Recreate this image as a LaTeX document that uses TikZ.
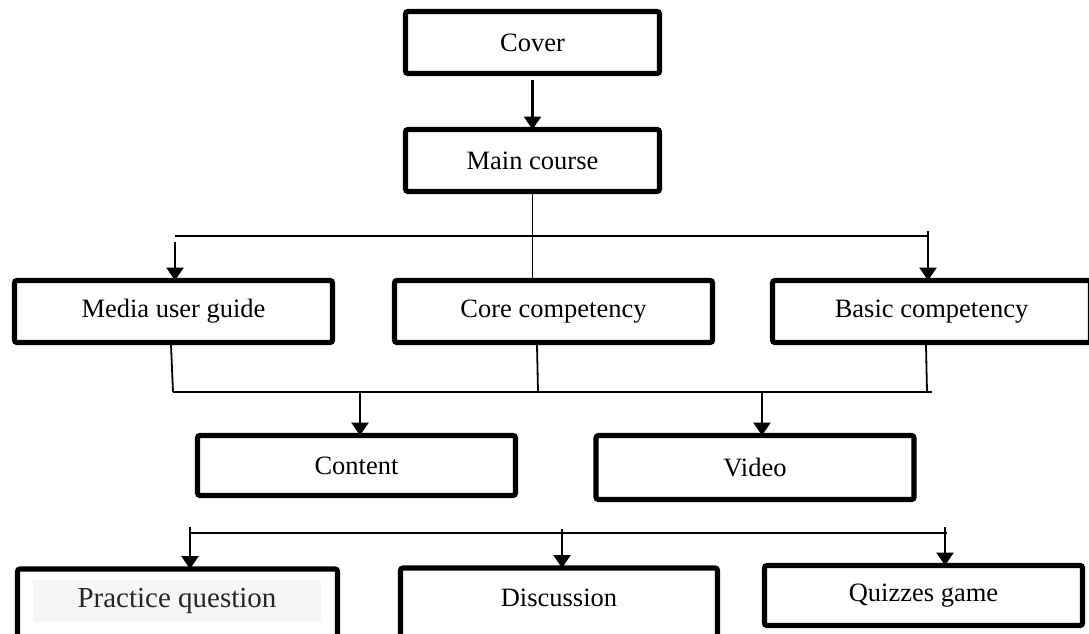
\documentclass[tikz,border=0pt]{standalone}
\usepackage{fontspec}
\setmainfont{Liberation Serif}
\usetikzlibrary{arrows.meta}
\definecolor{pqfill}{HTML}{F5F6F8}
\definecolor{pqtext}{HTML}{262626}
\begin{document}
\begin{tikzpicture}[x=1pt,y=-1pt,
  box/.style={draw, line width=5.2pt, rounded corners=2.5pt, minimum width=318pt, minimum height=62pt, inner sep=0pt, outer sep=0pt, font=\fontsize{26.5}{30}\selectfont},
  bus/.style={line width=1.8pt},
  arr/.style={line width=2.7pt, -{Triangle[length=13pt,width=17pt]}}]
\useasboundingbox (0,0) rectangle (1089,633);
% boxes
\node[box, minimum width=254pt] (cover) at (532.5,42.5) {Cover};
\node[box, minimum width=254pt] (main) at (532.5,160.5) {Main course};
\node[box] (media) at (173.5,311.5) {Media user guide};
\node[box] (core) at (553.5,311.5) {Core competency};
\node[box] (basic) at (931.5,311.5) {Basic competency};
\node[box, minimum height=60pt] (content) at (356.5,465.5) {Content};
\node[box, minimum height=64pt] (video) at (755,467.5) {Video};
\node[box, minimum width=320pt, minimum height=70pt] (practice) at (177.5,604) {};
\node[fill=pqfill, minimum width=288pt, minimum height=42pt, inner sep=0pt, text=pqtext, font=\fontsize{29}{32}\selectfont] (practicetxt) at (177,601) {Practice question};
\node[box, minimum width=317pt, minimum height=70pt] (discussion) at (559,603) {\raisebox{10pt}{Discussion}};
\node[box, minimum height=60pt] (quizzes) at (923.5,595.5) {Quizzes game};
% cover -> main
\draw[arr, shorten <=6pt] (cover.south) -- (main.north);
% main -> top bus
\coordinate (busL) at (175,236);
\coordinate (busR) at (928,236);
\draw[bus] (main.south) -- (main.south |- core.north);
\draw[bus] (busL) -- (busR);
\draw[arr] (175,242) -- (busL |- media.north);
\draw[arr] (928,231) -- (busR |- basic.north);
% second bus
\coordinate (bbL) at (173,392);
\coordinate (bbR) at (932,392);
\coordinate (bbCore) at (538,392);
\coordinate (bbBasic) at (927,392);
\draw[bus] (bbL) -- (bbR);
\draw[bus] (171,345) -- (bbL);
\draw[bus] (537,345) -- (bbCore);
\draw[bus] (926,345) -- (bbBasic);
\coordinate (toContent) at (360,392);
\coordinate (toVideo) at (762,392);
\draw[arr] (toContent) -- (toContent |- content.north);
\draw[arr] (toVideo) -- (toVideo |- video.north);
% third bus
\coordinate (tbL) at (189,533);
\coordinate (tbR) at (947,533);
\draw[bus] (tbL) -- (tbR);
\coordinate (toPractice) at (190,527);
\coordinate (toDiscussion) at (562,529);
\coordinate (toQuizzes) at (945,527);
\draw[arr] (toPractice) -- (toPractice |- practice.north);
\draw[arr] (toDiscussion) -- (toDiscussion |- discussion.north);
\draw[arr] (toQuizzes) -- (toQuizzes |- quizzes.north);
\end{tikzpicture}
\end{document}
